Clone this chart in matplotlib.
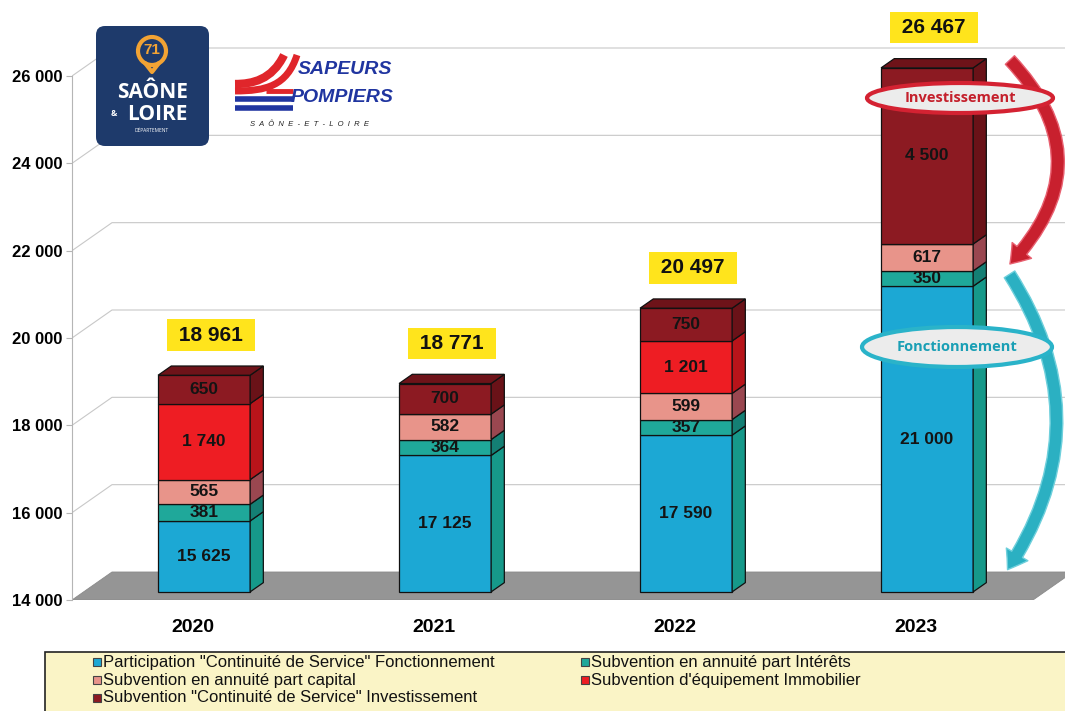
import matplotlib
matplotlib.use('Agg')
import matplotlib.pyplot as plt
import numpy as np
from matplotlib.patches import Polygon, Rectangle, Ellipse, FancyArrowPatch, FancyBboxPatch, Circle
from matplotlib.path import Path
from matplotlib.patches import PathPatch

# ---------------- data ----------------
years = ['2020', '2021', '2022', '2023']
series_names = [
    'Participation "Continuité de Service" Fonctionnement',
    'Subvention en annuité part Intérêts',
    'Subvention en annuité part capital',
    "Subvention d'équipement Immobilier",
    'Subvention "Continuité de Service" Investissement',
]
fonctionnement = [15625, 17125, 17590, 21000]
interets = [381, 364, 357, 350]
capital = [565, 582, 599, 617]
immobilier = [1740, 0, 1201, 0]
investissement = [650, 700, 750, 4500]
totals = [18961, 18771, 20497, 26467]
yticks = [14000, 16000, 18000, 20000, 22000, 24000, 26000]
ytick_labels = ['14 000', '16 000', '18 000', '20 000', '22 000', '24 000', '26 000']

series = [fonctionnement, interets, capital, immobilier, investissement]
front_colors = ['#1ca8d4', '#1fa89a', '#e8948a', '#ee1d23', '#8c1a22']
side_colors = ['#16998a', '#147f74', '#9a4750', '#b8141a', '#6a1218']
top_colors = ['#1590b5', '#188a7f', '#c87a72', '#c4161c', '#6e1319']
legend_colors = front_colors

def fmt(v):
    return f"{v:,}".replace(',', ' ')

W, H = 1065, 711
fig = plt.figure(figsize=(W / 100, H / 100), dpi=100)
fig.patch.set_facecolor('white')

ymin, ymax_axis = yticks[0], yticks[-1]
px_per_unit = 524.0 / (ymax_axis - ymin)
ax_top_px = 10
ax = fig.add_axes([72 / W, (H - 600) / H, (W - 72) / W, (600 - ax_top_px) / H])
cat_px = 241.0
ax.set_ylim(ymin, ymin + (600 - ax_top_px) / px_per_unit)
ax.set_xlim(-0.5, -0.5 + (W - 72) / cat_px)
ax.set_facecolor('none')

# unit conversions (data units per pixel)
p0 = ax.transData.transform((0, ymin))
p1 = ax.transData.transform((1, ymin + 2000))
ux = 1.0 / (p1[0] - p0[0])
uy = 2000.0 / (p1[1] - p0[1])
DX, DY = 40 * ux, 28 * uy          # full depth of the floor
f0, f1 = 0.29, 0.62                # bar depth position
xl, xr = ax.get_xlim()

# floor
x_front_right = xl + (1033 - 72) * ux
floor = Polygon([(xl, ymin), (xl + DX, ymin + DY), (x_front_right + DX, ymin + DY),
                 (x_front_right, ymin)], closed=True, fc='#959595', ec='#8a8a8a', lw=0.6, zorder=1)
ax.add_patch(floor)

# gridlines (left wall + back wall)
for v in yticks[1:]:
    ax.plot([xl, xl + DX, xr], [v, v + DY, v + DY], color='#c8c8c8', lw=0.8, zorder=0.5,
            solid_capstyle='butt')

# bars (absolute stacking, clipped to the value axis range)
w = 0.382
x = np.arange(len(years))
cum = np.zeros(len(years))
dDX, dDY = (f1 - f0) * DX, (f1 - f0) * DY
for j, vals in enumerate(series):
    vals = np.array(vals, dtype=float)
    bot = np.clip(cum, ymin, ymax_axis)
    top = np.clip(cum + vals, ymin, ymax_axis)
    heights = top - bot
    ax.bar(x + f0 * DX, heights, width=w, bottom=bot + f0 * DY,
           color=front_colors[j], edgecolor='#111111', linewidth=0.9, zorder=3)
    for i in range(len(years)):
        if heights[i] <= 0:
            continue
        R = x[i] + w / 2 + f0 * DX
        b0 = bot[i] + f0 * DY
        t0 = top[i] + f0 * DY
        side = Polygon([(R, b0), (R, t0), (R + dDX, t0 + dDY), (R + dDX, b0 + dDY)],
                       closed=True, fc=side_colors[j], ec='#111111', lw=0.9, zorder=3)
        ax.add_patch(side)
    cum = cum + vals

# value labels (drawn above all bar faces)
cum = np.zeros(len(years))
for j, vals in enumerate(series):
    vals = np.array(vals, dtype=float)
    bot = np.clip(cum, ymin, ymax_axis)
    top = np.clip(cum + vals, ymin, ymax_axis)
    for i in range(len(years)):
        if vals[i] > 0:
            ax.text(x[i] + f0 * DX, (bot[i] + top[i]) / 2 + f0 * DY, fmt(int(vals[i])),
                    ha='center', va='center', fontsize=12.5, fontweight='bold',
                    color='#141414', zorder=5, family=['Liberation Sans', 'DejaVu Sans'])
    cum = cum + vals

# top faces and totals
for i in range(len(years)):
    T = min(cum[i], ymax_axis) + f0 * DY
    L = x[i] - w / 2 + f0 * DX
    R = x[i] + w / 2 + f0 * DX
    last = [j for j in range(len(series)) if series[j][i] > 0][-1]
    topf = Polygon([(L, T), (R, T), (R + dDX, T + dDY), (L + dDX, T + dDY)], closed=True,
                   fc=top_colors[last], ec='#111111', lw=0.9, zorder=3)
    ax.add_patch(topf)
    ax.annotate(' ' + fmt(totals[i]) + ' ',
                xy=(x[i] + (f0 + f1) / 2 * DX, min(totals[i], ymax_axis) + f1 * DY),
                xytext=(0, 22.3), textcoords='offset points', ha='center', va='center',
                fontsize=15, fontweight='bold', color='#111111', zorder=6,
                family=['Liberation Sans', 'DejaVu Sans'],
                bbox=dict(boxstyle='square,pad=0.3', fc='#ffe41c', ec='none'))

# axes styling
for s in ['top', 'right', 'bottom']:
    ax.spines[s].set_visible(False)
ax.spines['left'].set_bounds(ymin, ymax_axis)
ax.spines['left'].set_color('#b5b5b5')
ax.spines['left'].set_linewidth(0.8)
ax.set_yticks(yticks)
ax.set_yticklabels(ytick_labels, fontsize=12, fontweight='bold', family=['Liberation Sans', 'DejaVu Sans'])
ax.tick_params(axis='y', length=4, width=0.8, color='#b5b5b5', pad=3)
ax.set_xticks(x)
ax.set_xticklabels(years, fontsize=14, fontweight='bold', family=['Liberation Sans', 'DejaVu Sans'])
ax.tick_params(axis='x', length=0, pad=14)

# ---------------- overlay: logos, arrows, legend ----------------
ov = fig.add_axes([0, 0, 1, 1])
ov.set_xlim(0, W)
ov.set_ylim(H, 0)
ov.axis('off')

# Saone & Loire logo
ov.add_patch(FancyBboxPatch((96, 26), 113, 120, boxstyle='round,pad=0,rounding_size=9',
                            fc='#1e3a6b', ec='none'))
ov.add_patch(Circle((152, 51), 14, fill=False, ec='#f2a334', lw=3))
ov.plot([145, 152, 159], [63, 72, 63], color='#f2a334', lw=3, solid_capstyle='round')
ov.text(152, 50, '71', ha='center', va='center', fontsize=11, color='#f2a334',
        fontweight='bold', family='Liberation Sans')
ov.text(152, 92, 'SAÔNE', ha='center', va='center', fontsize=15, color='white',
        fontweight='bold', family='Open Sans')
ov.text(114, 114, '&', ha='center', va='center', fontsize=6, color='white',
        fontweight='bold', family='Open Sans')
ov.text(157, 114, 'LOIRE', ha='center', va='center', fontsize=15, color='white',
        fontweight='bold', family='Open Sans')
ov.text(152, 131, 'DÉPARTEMENT', ha='center', va='center', fontsize=3.5, color='white',
        family='Open Sans')

# Sapeurs pompiers logo
red = '#e0262b'
blue = '#2035a0'
swooshes = [
    ([(284, 55), (272, 80), (252, 84), (235, 84)], 6),
    ([(297, 55), (287, 86), (266, 91), (235, 91)], 5),
]
for verts, lw in swooshes:
    path = Path(verts, [Path.MOVETO, Path.CURVE4, Path.CURVE4, Path.CURVE4])
    ov.add_patch(PathPatch(path, fill=False, ec=red, lw=lw, capstyle='butt'))
ov.plot([266, 293], [91, 91], color=red, lw=3.5, solid_capstyle='butt')
for yy in [99, 108]:
    ov.plot([235, 293], [yy, yy], color=blue, lw=4, solid_capstyle='butt')
ov.text(345, 70, 'SAPEURS', ha='center', va='center', fontsize=14, color=blue,
        fontweight='bold', style='italic', family='Liberation Sans')
ov.text(342, 97, 'POMPIERS', ha='center', va='center', fontsize=14, color=blue,
        fontweight='bold', style='italic', family='Liberation Sans')
ov.text(309, 125, 'S  A  Ô  N  E  -  E  T  -  L  O  I  R  E', ha='center', va='center',
        fontsize=5.5, color='#222222', style='italic', family='Liberation Sans')

# arrows
arr_red = FancyArrowPatch((1008, 58), (1008, 266), connectionstyle='arc3,rad=-0.48',
                          arrowstyle='simple,head_width=18,head_length=13,tail_width=9',
                          fc='#c8202e', ec='#e86070', lw=1.0, zorder=5)
ov.add_patch(arr_red)
arr_teal = FancyArrowPatch((1008, 272), (1006, 572), connectionstyle='arc3,rad=-0.33',
                           arrowstyle='simple,head_width=18,head_length=13,tail_width=9',
                           fc='#2bb0c2', ec='#6fd0dc', lw=1.0, zorder=5)
ov.add_patch(arr_teal)
ov.add_patch(Ellipse((960, 98), 186, 30, fc='#ececec', ec='#d42232', lw=3, zorder=6))
ov.text(960, 98, 'Investissement', ha='center', va='center', fontsize=10.5, color='#c4202c',
        fontweight='bold', family='Open Sans', zorder=7)
ov.add_patch(Ellipse((957, 347), 190, 40, fc='#ececec', ec='#2ab3c9', lw=3, zorder=6))
ov.text(957, 347, 'Fonctionnement', ha='center', va='center', fontsize=10.5, color='#1a9fb5',
        fontweight='bold', family='Open Sans', zorder=7)

# legend box
ov.add_patch(Rectangle((45, 652), 1040, 80, fc='#faf4c6', ec='#222222', lw=1.2, zorder=2))
col_x = [97, 585]
row_y = [662, 680, 698]
for k, name in enumerate(series_names):
    r, c = k // 2, k % 2
    cx, cy = col_x[c], row_y[r]
    ov.add_patch(Rectangle((cx - 4, cy - 4), 8, 8, fc=legend_colors[k], ec='#444444', lw=0.8, zorder=3))
    ov.text(cx + 6, cy, name, ha='left', va='center', fontsize=12, color='#111111',
            family=['Liberation Sans Narrow', 'Liberation Sans'], zorder=3)

fig.savefig('out.png', dpi=100)
